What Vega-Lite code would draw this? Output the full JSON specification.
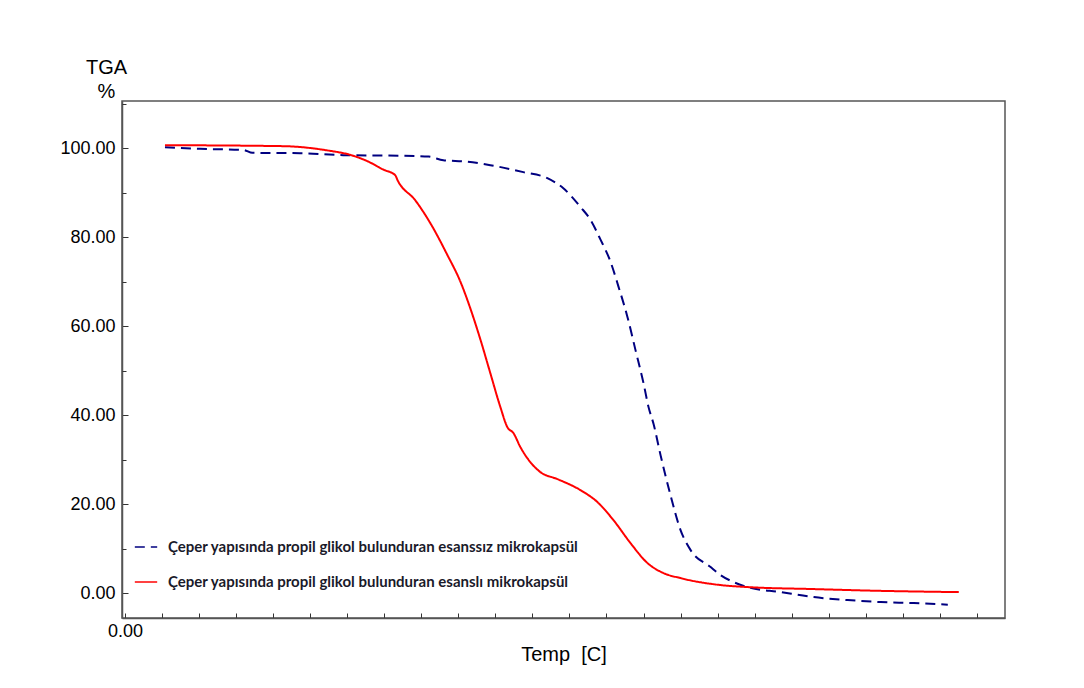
{
  "$schema": "https://vega.github.io/schema/vega-lite/v6.json",
  "width": 883,
  "height": 517,
  "autosize": "none",
  "padding": {"left": 122, "top": 101, "right": 79, "bottom": 70},
  "background": "white",
  "config": {
    "view": {"stroke": "#555555", "strokeWidth": 1.5},
    "font": "Liberation Sans"
  },
  "datasets": {
    "curves": [
      {"series": "esanssiz", "temp": 27.0, "tga": 100.22},
      {"series": "esanssiz", "temp": 50.7, "tga": 99.84},
      {"series": "esanssiz", "temp": 80.0, "tga": 99.6},
      {"series": "esanssiz", "temp": 86.0, "tga": 98.95},
      {"series": "esanssiz", "temp": 118.2, "tga": 98.88},
      {"series": "esanssiz", "temp": 147.3, "tga": 98.43},
      {"series": "esanssiz", "temp": 185.8, "tga": 98.31},
      {"series": "esanssiz", "temp": 205.0, "tga": 98.1},
      {"series": "esanssiz", "temp": 214.9, "tga": 97.3},
      {"series": "esanssiz", "temp": 230.0, "tga": 97.0},
      {"series": "esanssiz", "temp": 246.6, "tga": 96.18},
      {"series": "esanssiz", "temp": 268.9, "tga": 94.61},
      {"series": "esanssiz", "temp": 285.1, "tga": 93.26},
      {"series": "esanssiz", "temp": 295.9, "tga": 90.98},
      {"series": "esanssiz", "temp": 307.4, "tga": 86.8},
      {"series": "esanssiz", "temp": 314.0, "tga": 84.0},
      {"series": "esanssiz", "temp": 320.9, "tga": 79.5},
      {"series": "esanssiz", "temp": 327.7, "tga": 74.5},
      {"series": "esanssiz", "temp": 333.0, "tga": 69.0},
      {"series": "esanssiz", "temp": 339.2, "tga": 62.02},
      {"series": "esanssiz", "temp": 344.6, "tga": 54.61},
      {"series": "esanssiz", "temp": 350.0, "tga": 47.19},
      {"series": "esanssiz", "temp": 353.4, "tga": 41.8},
      {"series": "esanssiz", "temp": 356.8, "tga": 38.0},
      {"series": "esanssiz", "temp": 361.5, "tga": 31.01},
      {"series": "esanssiz", "temp": 368.2, "tga": 22.02},
      {"series": "esanssiz", "temp": 375.0, "tga": 14.16},
      {"series": "esanssiz", "temp": 381.8, "tga": 9.66},
      {"series": "esanssiz", "temp": 395.3, "tga": 5.84},
      {"series": "esanssiz", "temp": 402.0, "tga": 4.04},
      {"series": "esanssiz", "temp": 410.8, "tga": 2.47},
      {"series": "esanssiz", "temp": 420.3, "tga": 1.35},
      {"series": "esanssiz", "temp": 442.6, "tga": 0.22},
      {"series": "esanssiz", "temp": 464.9, "tga": -0.9},
      {"series": "esanssiz", "temp": 487.8, "tga": -1.57},
      {"series": "esanssiz", "temp": 510.1, "tga": -2.02},
      {"series": "esanssiz", "temp": 532.4, "tga": -2.25},
      {"series": "esanssiz", "temp": 555.4, "tga": -2.6},
      {"series": "esansli", "temp": 27.0, "tga": 100.67},
      {"series": "esansli", "temp": 106.8, "tga": 100.45},
      {"series": "esansli", "temp": 136.5, "tga": 99.5},
      {"series": "esansli", "temp": 152.0, "tga": 98.5},
      {"series": "esansli", "temp": 163.5, "tga": 97.1},
      {"series": "esansli", "temp": 174.3, "tga": 95.2},
      {"series": "esansli", "temp": 182.4, "tga": 93.93},
      {"series": "esansli", "temp": 184.0, "tga": 92.8},
      {"series": "esansli", "temp": 195.9, "tga": 88.31},
      {"series": "esansli", "temp": 206.1, "tga": 83.15},
      {"series": "esansli", "temp": 217.6, "tga": 76.0},
      {"series": "esansli", "temp": 226.4, "tga": 70.0},
      {"series": "esansli", "temp": 233.1, "tga": 64.0},
      {"series": "esansli", "temp": 239.9, "tga": 57.0},
      {"series": "esansli", "temp": 246.6, "tga": 49.44},
      {"series": "esansli", "temp": 253.4, "tga": 41.8},
      {"series": "esansli", "temp": 258.1, "tga": 37.3},
      {"series": "esansli", "temp": 262.2, "tga": 35.96},
      {"series": "esansli", "temp": 266.9, "tga": 32.81},
      {"series": "esansli", "temp": 273.6, "tga": 29.44},
      {"series": "esansli", "temp": 280.4, "tga": 27.19},
      {"series": "esansli", "temp": 291.9, "tga": 25.62},
      {"series": "esansli", "temp": 307.4, "tga": 23.15},
      {"series": "esansli", "temp": 318.9, "tga": 20.45},
      {"series": "esansli", "temp": 329.7, "tga": 16.4},
      {"series": "esansli", "temp": 341.2, "tga": 11.24},
      {"series": "esansli", "temp": 352.7, "tga": 6.74},
      {"series": "esansli", "temp": 363.5, "tga": 4.49},
      {"series": "esansli", "temp": 375.0, "tga": 3.37},
      {"series": "esansli", "temp": 402.0, "tga": 1.8},
      {"series": "esansli", "temp": 420.3, "tga": 1.35},
      {"series": "esansli", "temp": 464.9, "tga": 0.9},
      {"series": "esansli", "temp": 510.1, "tga": 0.5},
      {"series": "esansli", "temp": 562.8, "tga": 0.22}
    ],
    "minor": [
      {"v": 10}, {"v": 30}, {"v": 50}, {"v": 70}, {"v": 90}, {"v": 110}
    ]
  },
  "layer": [
    {
      "data": {"name": "curves"},
      "mark": {"type": "line", "strokeWidth": 2, "interpolate": "monotone"},
      "encoding": {
        "x": {
          "field": "temp", "type": "quantitative",
          "scale": {"domain": [-2, 594], "nice": false, "zero": false},
          "axis": {
            "title": "Temp\u00a0 [C]",
            "titleFontSize": 20, "titleFontWeight": "normal", "titleColor": "#000000",
            "titlePadding": 4,
            "values": [0,25,50,75,100,125,150,175,200,225,250,275,300,325,350,375,400,425,450,475,500,525,550,575],
            "labelExpr": "datum.value === 0 ? '0.00' : ''",
            "labelFontSize": 18, "labelColor": "#000000",
            "tickSize": -5, "labelPadding": 9,
            "tickColor": "#333333", "domainColor": "#555555", "domainWidth": 1.5,
            "grid": false
          }
        },
        "y": {
          "field": "tga", "type": "quantitative",
          "scale": {"domain": [-5.6, 110.6], "nice": false, "zero": false},
          "axis": {
            "title": ["TGA", "%"],
            "titleAngle": 0, "titleAlign": "center", "titleBaseline": "top",
            "titleX": -16, "titleY": -44,
            "titleFontSize": 20, "titleFontWeight": "normal", "titleColor": "#000000",
            "titleLineHeight": 24,
            "values": [0, 20, 40, 60, 80, 100],
            "format": ".2f",
            "labelFontSize": 18, "labelColor": "#000000",
            "tickSize": -6, "labelPadding": 13,
            "tickColor": "#333333", "domainColor": "#555555", "domainWidth": 1.5,
            "grid": false
          }
        },
        "color": {
          "field": "series", "type": "nominal",
          "scale": {"domain": ["esanssiz", "esansli"], "range": ["#000080", "#ff0000"]},
          "legend": {
            "title": null,
            "orient": "none", "legendX": 12, "legendY": 434,
            "symbolType": "stroke", "symbolSize": 500, "symbolStrokeWidth": 1.5,
            "labelExpr": "datum.value === 'esanssiz' ? 'Çeper yapısında propil glikol bulunduran esanssız mikrokapsül' : 'Çeper yapısında propil glikol bulunduran esanslı mikrokapsül'",
            "labelFont": "Lato", "labelFontWeight": "bold", "labelFontSize": 15,
            "labelColor": "#1a1a2a", "labelLimit": 600, "labelOffset": 10,
            "rowPadding": 15
          }
        },
        "strokeDash": {
          "field": "series", "type": "nominal",
          "scale": {"domain": ["esanssiz", "esansli"], "range": [[10, 6], [1, 0]]},
          "legend": null
        }
      }
    },
    {
      "data": {"name": "minor"},
      "mark": {"type": "tick", "opacity": 0},
      "encoding": {
        "y": {
          "field": "v", "type": "quantitative",
          "scale": {"domain": [-5.6, 110.6], "nice": false, "zero": false},
          "axis": {
            "orient": "left", "title": null,
            "values": [10, 30, 50, 70, 90, 110],
            "labels": false, "domain": false, "grid": false,
            "tickSize": -4, "tickColor": "#333333"
          }
        }
      }
    }
  ],
  "resolve": {"axis": {"y": "independent"}}
}
